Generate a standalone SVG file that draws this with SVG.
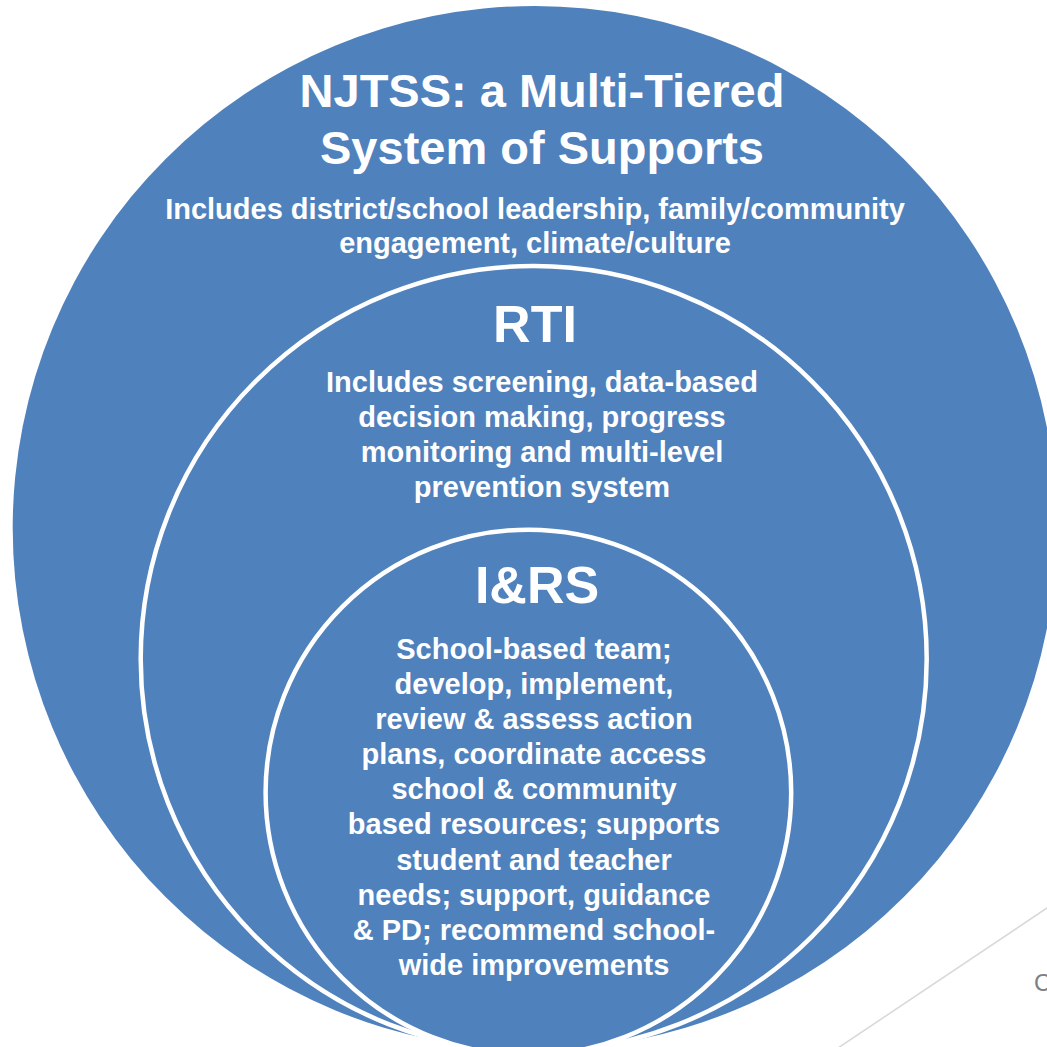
<svg xmlns="http://www.w3.org/2000/svg" width="1047" height="1047" viewBox="0 0 1047 1047">
  <style>
    .ring { fill: #4f81bd; }
    .inner { fill: #4f81bd; stroke: #ffffff; stroke-width: 4.5; }
    .head { font-family: "Liberation Sans", Arial, sans-serif; font-weight: bold; fill: #ffffff; text-anchor: middle; }
    .body { font-family: "Liberation Sans", Arial, sans-serif; font-weight: bold; fill: #ffffff; text-anchor: middle; font-size: 29px; }
  </style>
  <rect width="1047" height="1047" fill="#ffffff"/>

  <!-- corner decoration -->
  <g id="corner">
    <line x1="1062" y1="898" x2="826" y2="1056" stroke="#d9d9d9" stroke-width="1.6"/>
    <text x="1034" y="991" font-family="Liberation Sans, Arial, sans-serif" font-size="24" fill="#7f7f7f">C</text>
  </g>

  <g id="connectors"/>

  <!-- outer tier: NJTSS -->
  <g id="njtss">
    <circle class="ring" cx="534.7" cy="528" r="522"/>
    <text class="head" font-size="47" x="542" y="107">NJTSS: a Multi-Tiered</text>
    <text class="head" font-size="47" x="542" y="164">System of Supports</text>
    <text class="body" x="535" y="219">Includes district/school leadership, family/community</text>
    <text class="body" x="535" y="253">engagement, climate/culture</text>
  </g>

  <!-- middle tier: RTI -->
  <g id="rti">
    <circle class="inner" cx="533.7" cy="659" r="393"/>
    <text class="head" font-size="52" x="535" y="342">RTI</text>
    <text class="body" x="542" y="392">Includes screening, data-based</text>
    <text class="body" x="542" y="427">decision making, progress</text>
    <text class="body" x="542" y="462">monitoring and multi-level</text>
    <text class="body" x="542" y="497">prevention system</text>
  </g>

  <!-- inner tier: I&RS -->
  <g id="irs">
    <circle class="inner" cx="528.4" cy="792.5" r="262.8"/>
    <text class="head" font-size="52" x="537" y="603">I&amp;RS</text>
    <text class="body" x="534" y="659">School-based team;</text>
    <text class="body" x="534" y="694">develop, implement,</text>
    <text class="body" x="534" y="729">review &amp; assess action</text>
    <text class="body" x="534" y="764">plans, coordinate access</text>
    <text class="body" x="534" y="799">school &amp; community</text>
    <text class="body" x="534" y="834">based resources; supports</text>
    <text class="body" x="534" y="870">student and teacher</text>
    <text class="body" x="534" y="905">needs; support, guidance</text>
    <text class="body" x="534" y="940">&amp; PD; recommend school-</text>
    <text class="body" x="534" y="975">wide improvements</text>
  </g>
</svg>
